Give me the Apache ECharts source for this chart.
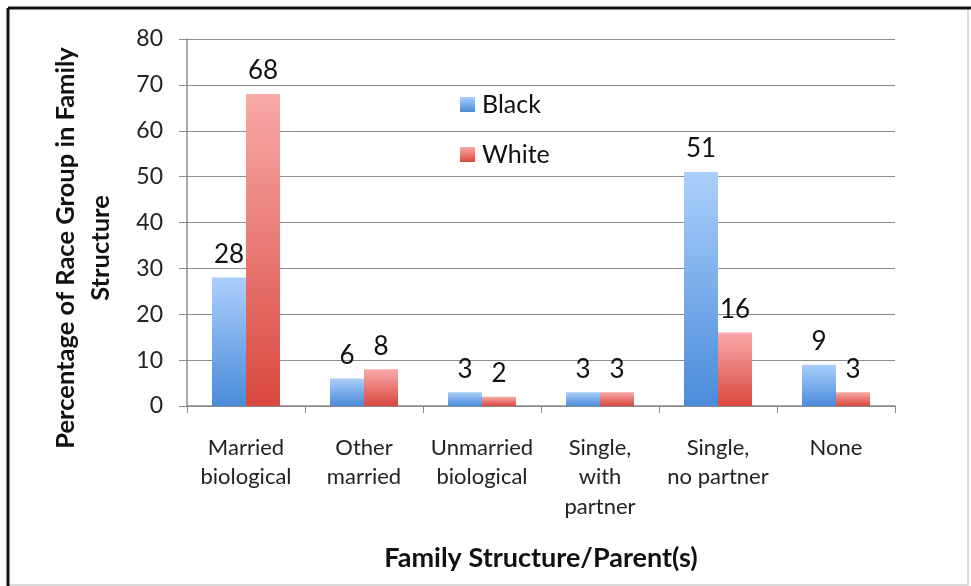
<!DOCTYPE html>
<html>
<head>
<meta charset="utf-8">
<script src="https://cdn.jsdelivr.net/npm/echarts@6/dist/echarts.min.js"></script>
<style>
  html, body { margin: 0; padding: 0; background: #fff; }
  #chart { width: 971px; height: 586px; }
</style>
</head>
<body>
<div id="chart"></div>
<script>
// Family structure categories and percentage of each race group in them
const categories = [
  'Married\nbiological',
  'Other\nmarried',
  'Unmarried\nbiological',
  'Single,\nwith\npartner',
  'Single,\nno partner',
  'None'
];
const blackValues = [28, 6, 3, 3, 51, 9];
const whiteValues = [68, 8, 2, 3, 16, 3];
const yTicks = [0, 10, 20, 30, 40, 50, 60, 70, 80];

const FONT = 'Lato, "Open Sans", sans-serif';

const blueFill = new echarts.graphic.LinearGradient(0, 0, 0, 1, [
  { offset: 0, color: '#abcffb' },
  { offset: 1, color: '#4a8bd9' }
]);
const redFill = new echarts.graphic.LinearGradient(0, 0, 0, 1, [
  { offset: 0, color: '#f8aaa9' },
  { offset: 1, color: '#d9483f' }
]);

const chart = echarts.init(document.getElementById('chart'), null, { renderer: 'canvas' });

const labelStyle = {
  show: true,
  position: 'top',
  distance: 10,
  fontFamily: FONT,
  fontSize: 26,
  color: '#111'
};

chart.setOption({
  backgroundColor: '#fff',
  animation: false,
  textStyle: { fontFamily: FONT },
  grid: { left: 187, right: 76, top: 39, bottom: 180, containLabel: false },
  legend: {
    orient: 'vertical',
    left: 455,
    top: 87,
    itemWidth: 15,
    itemHeight: 15,
    itemGap: 25,
    icon: 'rect',
    textStyle: { fontFamily: FONT, fontSize: 25, color: '#111', padding: [0, 0, 0, 2] },
    data: ['Black', 'White']
  },
  xAxis: {
    type: 'category',
    data: categories,
    name: 'Family Structure/Parent(s)',
    nameLocation: 'middle',
    nameGap: 139,
    nameTextStyle: { fontFamily: FONT, fontSize: 27, fontWeight: 'bold', color: '#111' },
    axisLine: { lineStyle: { color: '#8c8c8c', width: 1.5 } },
    axisTick: { show: true, length: 7, lineStyle: { color: '#8c8c8c' } },
    axisLabel: {
      fontFamily: FONT, fontSize: 22, color: '#222', lineHeight: 29.5, margin: 27, interval: 0
    }
  },
  yAxis: {
    type: 'value',
    min: yTicks[0],
    max: yTicks[yTicks.length - 1],
    interval: 10,
    axisLine: { show: true, lineStyle: { color: '#8c8c8c', width: 1.5 } },
    axisTick: { show: true, length: 8, lineStyle: { color: '#8c8c8c' } },
    axisLabel: { fontFamily: FONT, fontSize: 23, color: '#222', margin: 24 },
    splitLine: { lineStyle: { color: '#8c8c8c', width: 1.2 } }
  },
  series: [
    {
      name: 'Black',
      type: 'bar',
      data: blackValues,
      barWidth: 34,
      barGap: '0%',
      itemStyle: { color: blueFill },
      label: labelStyle
    },
    {
      name: 'White',
      type: 'bar',
      data: whiteValues,
      barWidth: 34,
      barGap: '0%',
      itemStyle: { color: redFill },
      label: labelStyle
    }
  ],
  graphic: [
    // outer frame: dark top/left edge with a light inner line
    {
      type: 'rect',
      shape: { x: 8, y: 8, width: 960, height: 577 },
      style: { fill: null, stroke: '#d0d0d0', lineWidth: 1.5 },
      silent: true
    },
    {
      type: 'line',
      shape: { x1: 8, y1: 8, x2: 971, y2: 8 },
      style: { stroke: '#111', lineWidth: 3 },
      silent: true
    },
    {
      type: 'line',
      shape: { x1: 8, y1: 8, x2: 8, y2: 586 },
      style: { stroke: '#111', lineWidth: 3 },
      silent: true
    },
    {
      type: 'text',
      x: 83,
      y: 248,
      rotation: Math.PI / 2,
      style: {
        text: 'Percentage of Race Group in Family\nStructure',
        fontFamily: FONT,
        fontSize: 25.5,
        fontWeight: 'bold',
        fill: '#111',
        align: 'center',
        verticalAlign: 'middle',
        lineHeight: 35
      },
      silent: true
    }
  ]
});
</script>
</body>
</html>
